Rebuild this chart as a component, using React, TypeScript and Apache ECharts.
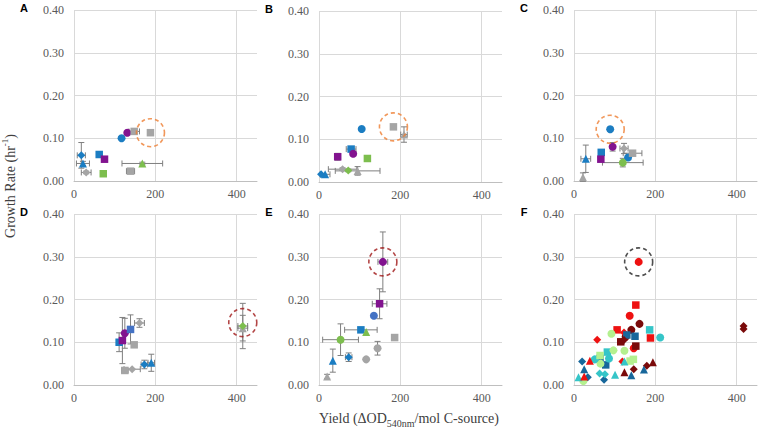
import React, { useEffect, useRef } from 'react';
import * as echarts from 'echarts';

// [marker key, yield (x), growth rate (y), x error, y error]
type Pt = [string, number, number, number, number];

const panelLetters = ['A', 'B', 'C', 'D', 'E', 'F'];
const xTickStep = 200;
const xMax = 450;
const yTickStep = 0.1;
const yMax = 0.4;

const panelA: Pt[] = [
  ['bc', 117, 0.100, 0, 0],
  ['pc', 131, 0.113, 0, 0],
  ['ys', 148, 0.116, 13, 0],
  ['ys', 188, 0.113, 6, 0.003],
  ['bd', 18, 0.060, 10, 0.030],
  ['bt', 22, 0.041, 16, 0.005],
  ['yd', 30, 0.020, 12, 0.003],
  ['bs', 62, 0.062, 0, 0],
  ['ps', 75, 0.051, 6, 0.005],
  ['gs', 72, 0.017, 0, 0],
  ['ys', 139, 0.023, 10, 0.003],
  ['gt', 168, 0.041, 50, 0.003],
];
const panelB: Pt[] = [
  ['bc', 105, 0.124, 0, 0],
  ['ys', 183, 0.129, 0, 0],
  ['yt', 209, 0.111, 8, 0.018],
  ['bs', 79, 0.077, 12, 0.005],
  ['pc', 84, 0.066, 0, 0.005],
  ['ps', 46, 0.059, 0, 0.008],
  ['gs', 119, 0.055, 5, 0.004],
  ['yd', 58, 0.030, 35, 0.003],
  ['gd', 72, 0.027, 0, 0.003],
  ['yt', 95, 0.026, 55, 0.010],
  ['bd', 5, 0.018, 0, 0],
  ['bt', 15, 0.018, 12, 0],
];
const panelC: Pt[] = [
  ['bc', 89, 0.121, 0, 0.005],
  ['pc', 95, 0.080, 0, 0.010],
  ['bs', 67, 0.067, 0, 0],
  ['ps', 66, 0.051, 0, 0.004],
  ['bt', 29, 0.052, 12, 0.032],
  ['yt', 22, 0.009, 0, 0.010],
  ['yd', 123, 0.076, 10, 0.012],
  ['ys', 144, 0.065, 23, 0.005],
  ['bc', 133, 0.055, 0, 0],
  ['gc', 120, 0.043, 50, 0.010],
];
const panelD: Pt[] = [
  ['bs', 111, 0.100, 0, 0.022],
  ['ps', 119, 0.104, 0, 0.054],
  ['pc', 125, 0.121, 0, 0.035],
  ['ls', 139, 0.130, 0, 0.034],
  ['yd', 161, 0.145, 12, 0.010],
  ['ys', 148, 0.094, 0, 0],
  ['ys', 125, 0.034, 8, 0.003],
  ['yd', 143, 0.037, 20, 0],
  ['bd', 173, 0.048, 8, 0.010],
  ['bt', 190, 0.052, 8, 0.020],
  ['yt', 415, 0.133, 12, 0.030],
  ['gd', 415, 0.138, 12, 0.053],
];
const panelE: Pt[] = [
  ['pc', 157, 0.288, 12, 0.070],
  ['ps', 149, 0.190, 18, 0.035],
  ['lc', 135, 0.162, 0, 0],
  ['bs', 103, 0.129, 40, 0],
  ['gt', 116, 0.124, 0, 0],
  ['ys', 186, 0.111, 0, 0.004],
  ['gc', 53, 0.106, 44, 0.037],
  ['yc', 144, 0.086, 0, 0.016],
  ['yc', 116, 0.060, 0, 0],
  ['bd', 73, 0.065, 8, 0.010],
  ['bt', 34, 0.057, 0, 0.027],
  ['yt', 20, 0.020, 0, 0.005],
];
const panelF: Pt[] = [
  ['rc', 159, 0.288, 0, 0],
  ['rs', 152, 0.187, 0, 0],
  ['rc', 137, 0.162, 0, 0],
  ['kc', 161, 0.143, 0, 0],
  ['kc', 141, 0.129, 0, 0],
  ['ts', 186, 0.129, 0, 0],
  ['rs', 106, 0.129, 0, 0],
  ['rd', 123, 0.123, 0, 0],
  ['kc', 127, 0.113, 0, 0],
  ['ns', 150, 0.114, 0, 0],
  ['ns', 130, 0.117, 0, 0],
  ['lc', 92, 0.120, 0, 0],
  ['ks', 115, 0.101, 0, 0],
  ['kd', 123, 0.105, 0, 0],
  ['rd', 57, 0.106, 0, 0],
  ['rs', 188, 0.110, 0, 0],
  ['tc', 212, 0.111, 0, 0],
  ['kd', 417, 0.138, 0, 0],
  ['kd', 417, 0.131, 0, 0],
  ['rc', 147, 0.086, 0, 0],
  ['ks', 152, 0.091, 0, 0],
  ['lc', 124, 0.080, 0, 0],
  ['lc', 97, 0.081, 0, 0],
  ['ts', 82, 0.077, 0, 0],
  ['tc', 86, 0.062, 0, 0],
  ['ns', 64, 0.062, 0, 0],
  ['tc', 51, 0.060, 0, 0],
  ['ls', 64, 0.069, 0, 0],
  ['ls', 146, 0.060, 0, 0],
  ['ls', 138, 0.056, 0, 0],
  ['tt', 124, 0.055, 0, 0],
  ['rd', 119, 0.055, 0, 0],
  ['ns', 78, 0.047, 0, 0],
  ['nd', 20, 0.055, 0, 0],
  ['rt', 39, 0.057, 0, 0],
  ['lc', 65, 0.050, 0, 0],
  ['nt', 25, 0.037, 0, 0],
  ['kt', 194, 0.053, 0, 0],
  ['kd', 179, 0.045, 0, 0],
  ['kd', 147, 0.037, 0, 0],
  ['kt', 124, 0.030, 0, 0],
  ['nt', 172, 0.036, 0, 0],
  ['tt', 101, 0.024, 0, 0],
  ['nt', 141, 0.023, 0, 0],
  ['td', 63, 0.027, 0, 0],
  ['td', 76, 0.025, 0, 0],
  ['nd', 74, 0.012, 0, 0],
  ['tt', 11, 0.018, 0, 0],
  ['rt', 25, 0.020, 0, 0],
  ['nd', 34, 0.018, 0, 0],
  ['lc', 23, 0.009, 0, 0],
];
const panels = [panelA, panelB, panelC, panelD, panelE, panelF];

// highlighted (dashed-circle) points per panel
const highlightPoints: [number, number][] = [
  [188, 0.113],
  [183, 0.129],
  [89, 0.121],
  [415, 0.146],
  [157, 0.288],
  [159, 0.288],
];
const highlightColors = ['#ED7D31', '#ED7D31', '#ED7D31', '#A01818', '#A01818', '#222222'];

const colorOf: Record<string, string> = {
  b: '#1B7DC2', // blue
  p: '#82138F', // purple
  y: '#A5A5A5', // gray
  g: '#7DBE4E', // green
  l: '#4472C4', // mid blue
  r: '#EE1111', // red
  k: '#7A0A0A', // dark red
  t: '#35C5C8', // teal
  n: '#17679B', // dark blue
};
const lightGreenF = '#B4F08F';
const symbolOf: Record<string, string> = { c: 'circle', s: 'rect', t: 'triangle', d: 'diamond' };
const sizeOf: Record<string, number> = { c: 8, s: 8, t: 8, d: 8 };

const boxes = [
  { left: 74, top: 10 },
  { left: 319, top: 11 },
  { left: 574, top: 10 },
  { left: 74, top: 214 },
  { left: 319, top: 214 },
  { left: 574, top: 214 },
];
const gridW = 183;
const gridH = 171;

const serif = '"Liberation Serif", "Times New Roman", serif';

export default function App() {
  const ref = useRef<HTMLDivElement>(null);
  useEffect(() => {
    if (!ref.current) return;
    const chart = echarts.init(ref.current, undefined, { renderer: 'svg' });

    const grid = boxes.map((b) => ({ left: b.left, top: b.top, width: gridW, height: gridH }));
    const xAxis = boxes.map((_, i) => ({
      type: 'value',
      gridIndex: i,
      min: 0,
      max: xMax,
      interval: xTickStep,
      axisLine: { show: true, lineStyle: { color: '#BFBFBF', width: 1 } },
      axisTick: { show: false },
      axisLabel: {
        show: true,
        showMaxLabel: false,
        color: '#595959',
        fontFamily: serif,
        fontSize: 12,
        margin: 7,
        formatter: (v: number) => (v % xTickStep === 0 ? String(v) : ''),
      },
      splitLine: {
        show: true,
        lineStyle: { color: ['#D9D9D9', '#D9D9D9', '#D9D9D9', 'rgba(0,0,0,0)'], width: 1 },
      },
    }));
    const yAxis = boxes.map((_, i) => ({
      type: 'value',
      gridIndex: i,
      min: 0,
      max: yMax,
      interval: yTickStep,
      axisLine: { show: false },
      axisTick: { show: false },
      axisLabel: {
        color: '#595959',
        fontFamily: serif,
        fontSize: 12,
        margin: 10,
        formatter: (v: number) => v.toFixed(2),
      },
      splitLine: { show: true, lineStyle: { color: '#D9D9D9', width: 1 } },
    }));

    const series: any[] = [];
    panels.forEach((pts, i) => {
      // error bars
      series.push({
        type: 'custom',
        xAxisIndex: i,
        yAxisIndex: i,
        z: 2,
        silent: true,
        data: pts.filter((p) => p[3] > 0 || p[4] > 0).map((p) => [p[1], p[2], p[3], p[4]]),
        encode: { x: 0, y: 1 },
        renderItem: (params: any, api: any) => {
          const x = api.value(0);
          const y = api.value(1);
          const xe = api.value(2);
          const ye = api.value(3);
          const style = { stroke: '#7F7F7F', lineWidth: 1, fill: 'none' };
          const cap = 3;
          const children: any[] = [];
          if (ye > 0) {
            const t = api.coord([x, y + ye]);
            const b = api.coord([x, y - ye]);
            children.push({ type: 'line', shape: { x1: t[0], y1: t[1], x2: b[0], y2: b[1] }, style });
            children.push({ type: 'line', shape: { x1: t[0] - cap, y1: t[1], x2: t[0] + cap, y2: t[1] }, style });
            children.push({ type: 'line', shape: { x1: b[0] - cap, y1: b[1], x2: b[0] + cap, y2: b[1] }, style });
          }
          if (xe > 0) {
            const l = api.coord([x - xe, y]);
            const r = api.coord([x + xe, y]);
            children.push({ type: 'line', shape: { x1: l[0], y1: l[1], x2: r[0], y2: r[1] }, style });
            children.push({ type: 'line', shape: { x1: l[0], y1: l[1] - cap, x2: l[0], y2: l[1] + cap }, style });
            children.push({ type: 'line', shape: { x1: r[0], y1: r[1] - cap, x2: r[0], y2: r[1] + cap }, style });
          }
          return { type: 'group', children };
        },
      });
      // markers grouped by key
      const keys: string[] = [];
      pts.forEach((p) => {
        if (!keys.includes(p[0])) keys.push(p[0]);
      });
      keys.forEach((k) => {
        const c = i === 5 && k[0] === 'l' ? lightGreenF : colorOf[k[0]];
        series.push({
          type: 'scatter',
          xAxisIndex: i,
          yAxisIndex: i,
          z: 3,
          symbol: symbolOf[k[1]],
          symbolSize: k[1] === 's' ? 7.5 : sizeOf[k[1]],
          itemStyle: { color: c, opacity: 1 },
          data: pts.filter((p) => p[0] === k).map((p) => [p[1], p[2]]),
        });
      });
      // dashed highlight circle
      series.push({
        type: 'scatter',
        xAxisIndex: i,
        yAxisIndex: i,
        z: 4,
        symbol: 'circle',
        symbolSize: 28,
        itemStyle: {
          color: 'rgba(0,0,0,0)',
          borderColor: highlightColors[i],
          borderWidth: 1.6,
          borderType: [4, 3],
        },
        data: [highlightPoints[i]],
      });
    });

    const graphic: any[] = boxes.map((b, i) => ({
      type: 'text',
      x: b.left - 50,
      y: b.top - 8,
      style: {
        text: panelLetters[i],
        font: 'bold 11px "Liberation Sans", Arial, sans-serif',
        fill: '#000',
        align: 'center',
        verticalAlign: 'top',
      },
    }));
    graphic.push({
      type: 'text',
      x: 10,
      y: 186,
      rotation: Math.PI / 2,
      style: {
        text: '{a|Growth Rate (hr}{s|-1}{a|)}',
        align: 'center',
        verticalAlign: 'middle',
        rich: {
          a: { fontFamily: serif, fontSize: 14, fill: '#404040', color: '#404040', lineHeight: 20 },
          s: { fontFamily: serif, fontSize: 9, fill: '#404040', color: '#404040', verticalAlign: 'top' },
        },
      },
    });
    graphic.push({
      type: 'text',
      x: 409,
      y: 418,
      style: {
        text: '{a|Yield (\u0394OD}{s|540nm}{a|/mol C-source)}',
        align: 'center',
        verticalAlign: 'middle',
        rich: {
          a: { fontFamily: serif, fontSize: 14, fill: '#404040', color: '#404040', lineHeight: 20 },
          s: { fontFamily: serif, fontSize: 10, fill: '#404040', color: '#404040', verticalAlign: 'bottom' },
        },
      },
    });

    chart.setOption({
      animation: false,
      backgroundColor: '#fff',
      grid,
      xAxis,
      yAxis,
      series,
      graphic,
    });
    return () => chart.dispose();
  }, []);
  return <div ref={ref} style={{ width: 760, height: 427, position: 'absolute', left: 0, top: 0 }} />;
}
